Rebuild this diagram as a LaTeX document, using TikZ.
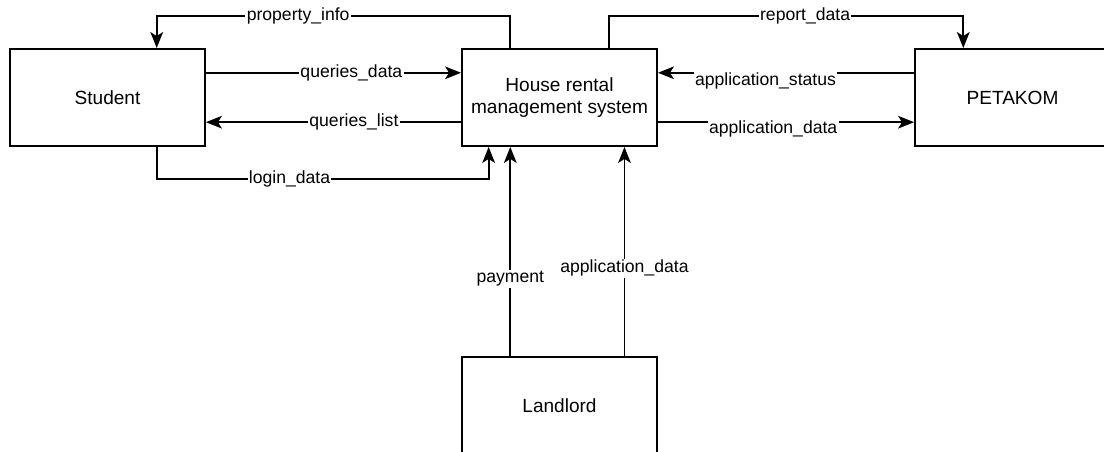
\documentclass[tikz,border=0pt]{standalone}
\usepackage{fontspec}
\setmainfont{Liberation Sans}
\usetikzlibrary{arrows.meta,calc,positioning}

\begin{document}
\begin{tikzpicture}[x=0.75pt,y=-0.75pt,>={Stealth[length=12pt,width=9.5pt,inset=3pt]},line width=1.4pt,
	entity/.style={draw,rectangle,align=center,minimum width=146.25pt,minimum height=72.75pt,font=\fontsize{14.3}{17}\selectfont},
	lbl/.style={fill=white,inner sep=1pt,font=\fontsize{13.2}{15}\selectfont}]
\useasboundingbox (0,0) rectangle (1104,452);

% external entities and the process
\node[entity] (student)  at (107.5,97.5)  {Student};
\node[entity] (hrms)     at (559.5,97.5)  {House rental\\management system};
\node[entity] (petakom)  at (1012.5,97.5) {PETAKOM};
\node[entity] (landlord) at (559.5,405.5) {Landlord};

% attach points on the box sides
\coordinate (stuN) at ($(student.north west)!0.75!(student.north east)$);
\coordinate (stuS) at ($(student.south west)!0.75!(student.south east)$);
\coordinate (stuE1) at ($(student.north east)!0.25!(student.south east)$);
\coordinate (stuE2) at ($(student.north east)!0.75!(student.south east)$);
\coordinate (hrmsN1) at ($(hrms.north west)!0.25!(hrms.north east)$);
\coordinate (hrmsN2) at ($(hrms.north west)!0.75!(hrms.north east)$);
\coordinate (hrmsW1) at ($(hrms.north west)!0.25!(hrms.south west)$);
\coordinate (hrmsW2) at ($(hrms.north west)!0.75!(hrms.south west)$);
\coordinate (hrmsE1) at ($(hrms.north east)!0.25!(hrms.south east)$);
\coordinate (hrmsE2) at ($(hrms.north east)!0.75!(hrms.south east)$);
\coordinate (hrmsS1) at ($(hrms.south west)!0.14!(hrms.south east)$);
\coordinate (hrmsS2) at ($(hrms.south west)!0.25!(hrms.south east)$);
\coordinate (hrmsS3) at ($(hrms.south west)!0.83!(hrms.south east)$);
\coordinate (petN) at ($(petakom.north west)!0.25!(petakom.north east)$);
\coordinate (petW1) at ($(petakom.north west)!0.25!(petakom.south west)$);
\coordinate (petW2) at ($(petakom.north west)!0.75!(petakom.south west)$);
\coordinate (llN1) at ($(landlord.north west)!0.25!(landlord.north east)$);
\coordinate (llN2) at ($(landlord.north west)!0.83!(landlord.north east)$);

% data flows
\draw[->] (hrmsN1) -- ++(0,-32) -| node[lbl,pos=0.3]{property\_info} (stuN);
\draw[->] (stuE1) -- node[lbl,pos=0.57]{queries\_data} (hrmsW1);
\draw[->] (hrmsW2) -- node[lbl,pos=0.42]{queries\_list} (stuE2);
\draw[->] (stuS) -- ++(0,32) -| node[lbl,pos=0.2]{login\_data} (hrmsS1);
\draw[->] (hrmsN2) -- ++(0,-32) -| node[lbl,pos=0.277]{report\_data} (petN);
\draw[->] (petW1) -- node[lbl,pos=0.58,yshift=-6pt]{application\_status} (hrmsE1);
\draw[->] (hrmsE2) -- node[lbl,pos=0.45,yshift=-5pt]{application\_data} (petW2);
\draw[->] (llN1) -- node[lbl,pos=0.37]{payment} (hrmsS2);
\draw[->] (llN2) -- node[lbl,pos=0.42]{application\_data} (hrmsS3);
\end{tikzpicture}
\end{document}
